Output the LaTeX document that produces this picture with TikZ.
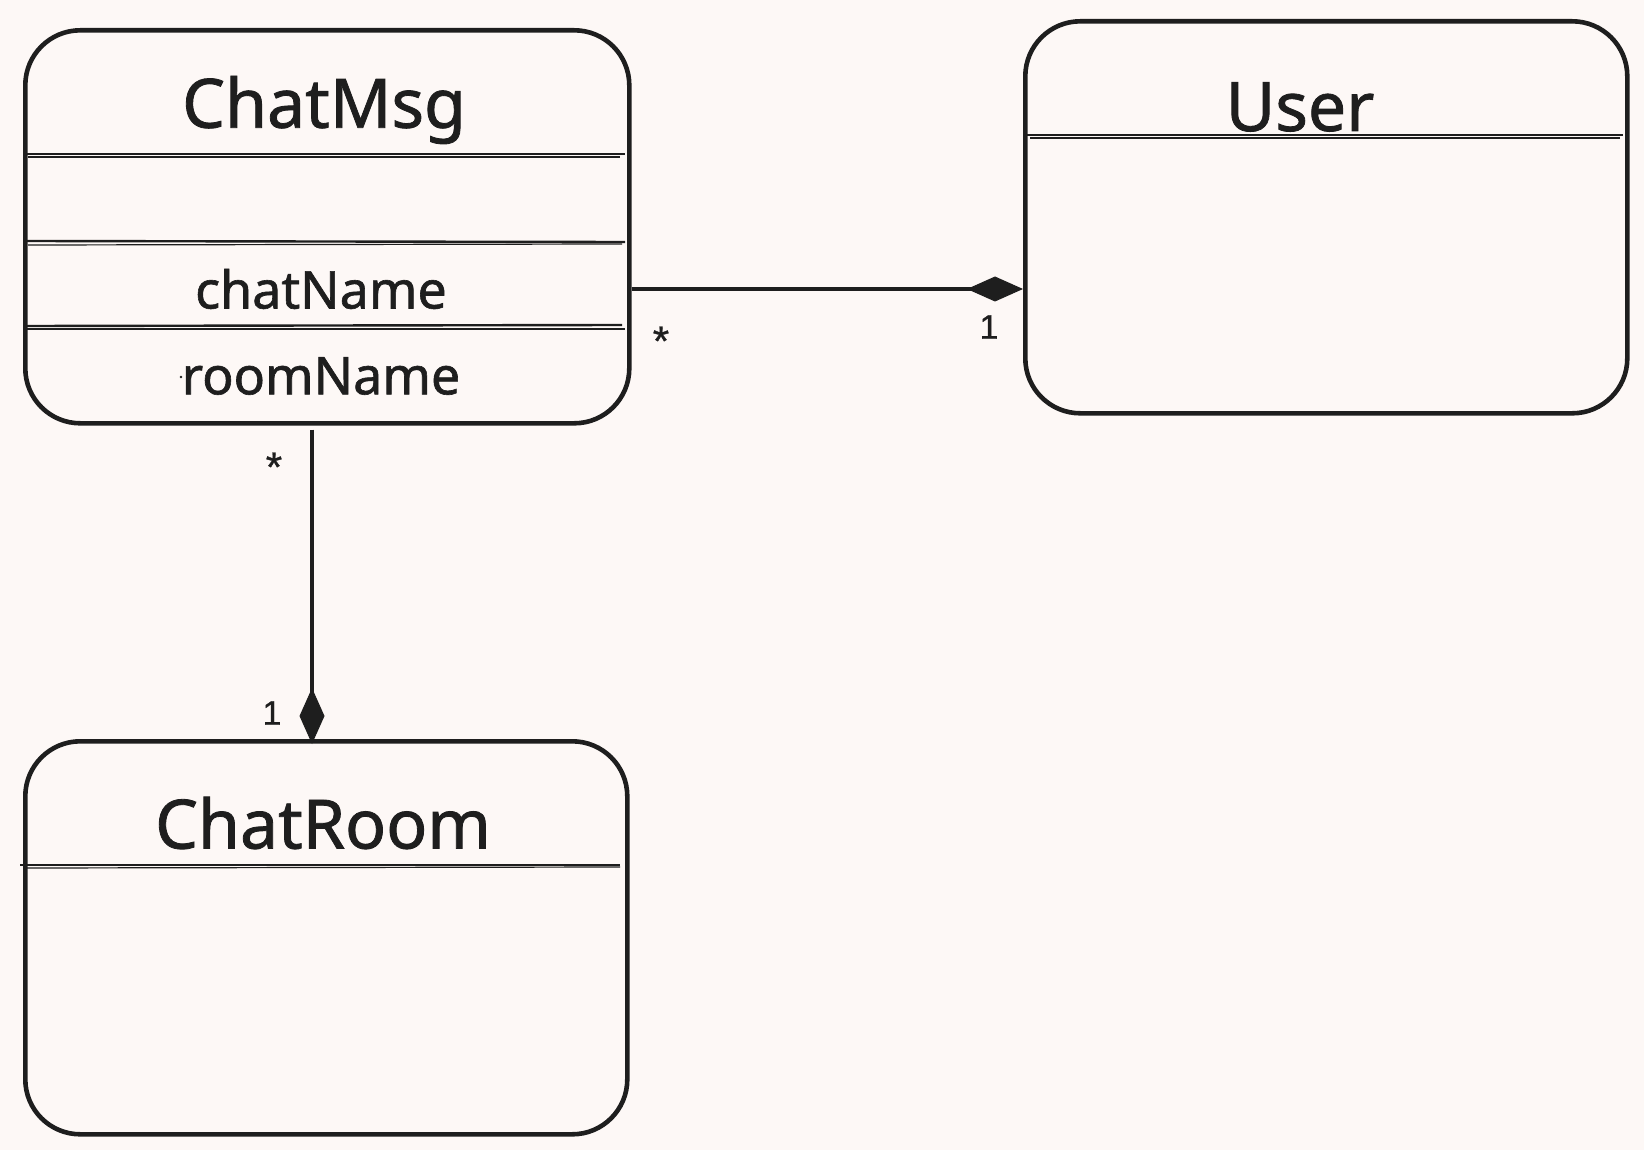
\documentclass[tikz,border=0pt]{standalone}
\usepackage{fontspec}
\setmainfont{Noto Sans}[FakeBold=1.2]
\newfontfamily\lblfont{Liberation Sans}[FakeBold=0.8]
\usetikzlibrary{arrows.meta}
\definecolor{bg}{HTML}{FDF8F6}
\definecolor{ink}{HTML}{1E1E1E}
\begin{document}
\begin{tikzpicture}[x=1pt,y=-1pt,
  classbox/.style={draw=ink, line width=4.6pt, rounded corners=55pt, inner sep=0pt, anchor=north west},
  sepline/.style={draw=ink, line width=2.4pt},
  septhin/.style={draw=ink, line width=1.2pt},
  title/.style={text=ink, font=\fontsize{68}{80}\selectfont, inner sep=0pt},
  attr/.style={text=ink, font=\fontsize{52}{60}\selectfont, inner sep=0pt},
  mult/.style={text=ink, font=\lblfont\fontsize{34}{40}\selectfont, inner sep=0pt},
  star/.style={text=ink, font=\lblfont\fontsize{42}{48}\selectfont, inner sep=0pt},
  conn/.style={draw=ink, line width=3.8pt},
  comp/.style={-{Diamond[fill=ink, length=56pt, width=25pt, line width=1pt]}}
]
\fill[bg] (0,0) rectangle (1644,1150);
\useasboundingbox (0,0) rectangle (1644,1150);

% boxes
\node[classbox, minimum width=604pt, minimum height=393pt] (chat) at (23,28) {};
\node[classbox, minimum width=602pt, minimum height=392pt] (user) at (1023,19) {};
\node[classbox, minimum width=602pt, minimum height=393pt] (room) at (23,739) {};

% separators
\draw[sepline] (25,154) -- (625,154);
\draw[septhin] (28,157) -- (620,157);
\draw[sepline] (25,241) -- (625,242);
\draw[septhin] (28,245) -- (622,244);
\draw[sepline] (25,326) -- (622,325);
\draw[septhin] (25,329) -- (625,329);
\draw[sepline] (1025,135) -- (1623,135);
\draw[septhin] (1030,138) -- (1620,138);
\draw[sepline] (20,865) -- (620,865);
\draw[septhin] (25,868) -- (620,867);

% texts
\node[title] (chatT) at (324,110) {ChatMsg};
\node[attr] (chatname) at (321,289) {chatName};
\node[attr] (roomname) at (321,376) {roomName};
\fill[ink] (181,377) circle (1.3pt);
\node[title] (userT) at (1300,107) {User};
\node[title] (roomT) at (323,823) {ChatRoom};

% connectors
\coordinate (vx) at (312,0);
\draw[conn, comp] (chat.east |- chatname) -- (user.west |- chatname);
\draw[conn, comp, shorten <=4pt] (chat.south -| vx) -- ([yshift=-5pt]room.north -| vx);

% multiplicities
\node[star] (m1) at (661,341) {*};
\node[mult] (m2) at (989,327) {1};
\node[star] (m3) at (274,467) {*};
\node[mult] (m4) at (272,713) {1};
\end{tikzpicture}
\end{document}
